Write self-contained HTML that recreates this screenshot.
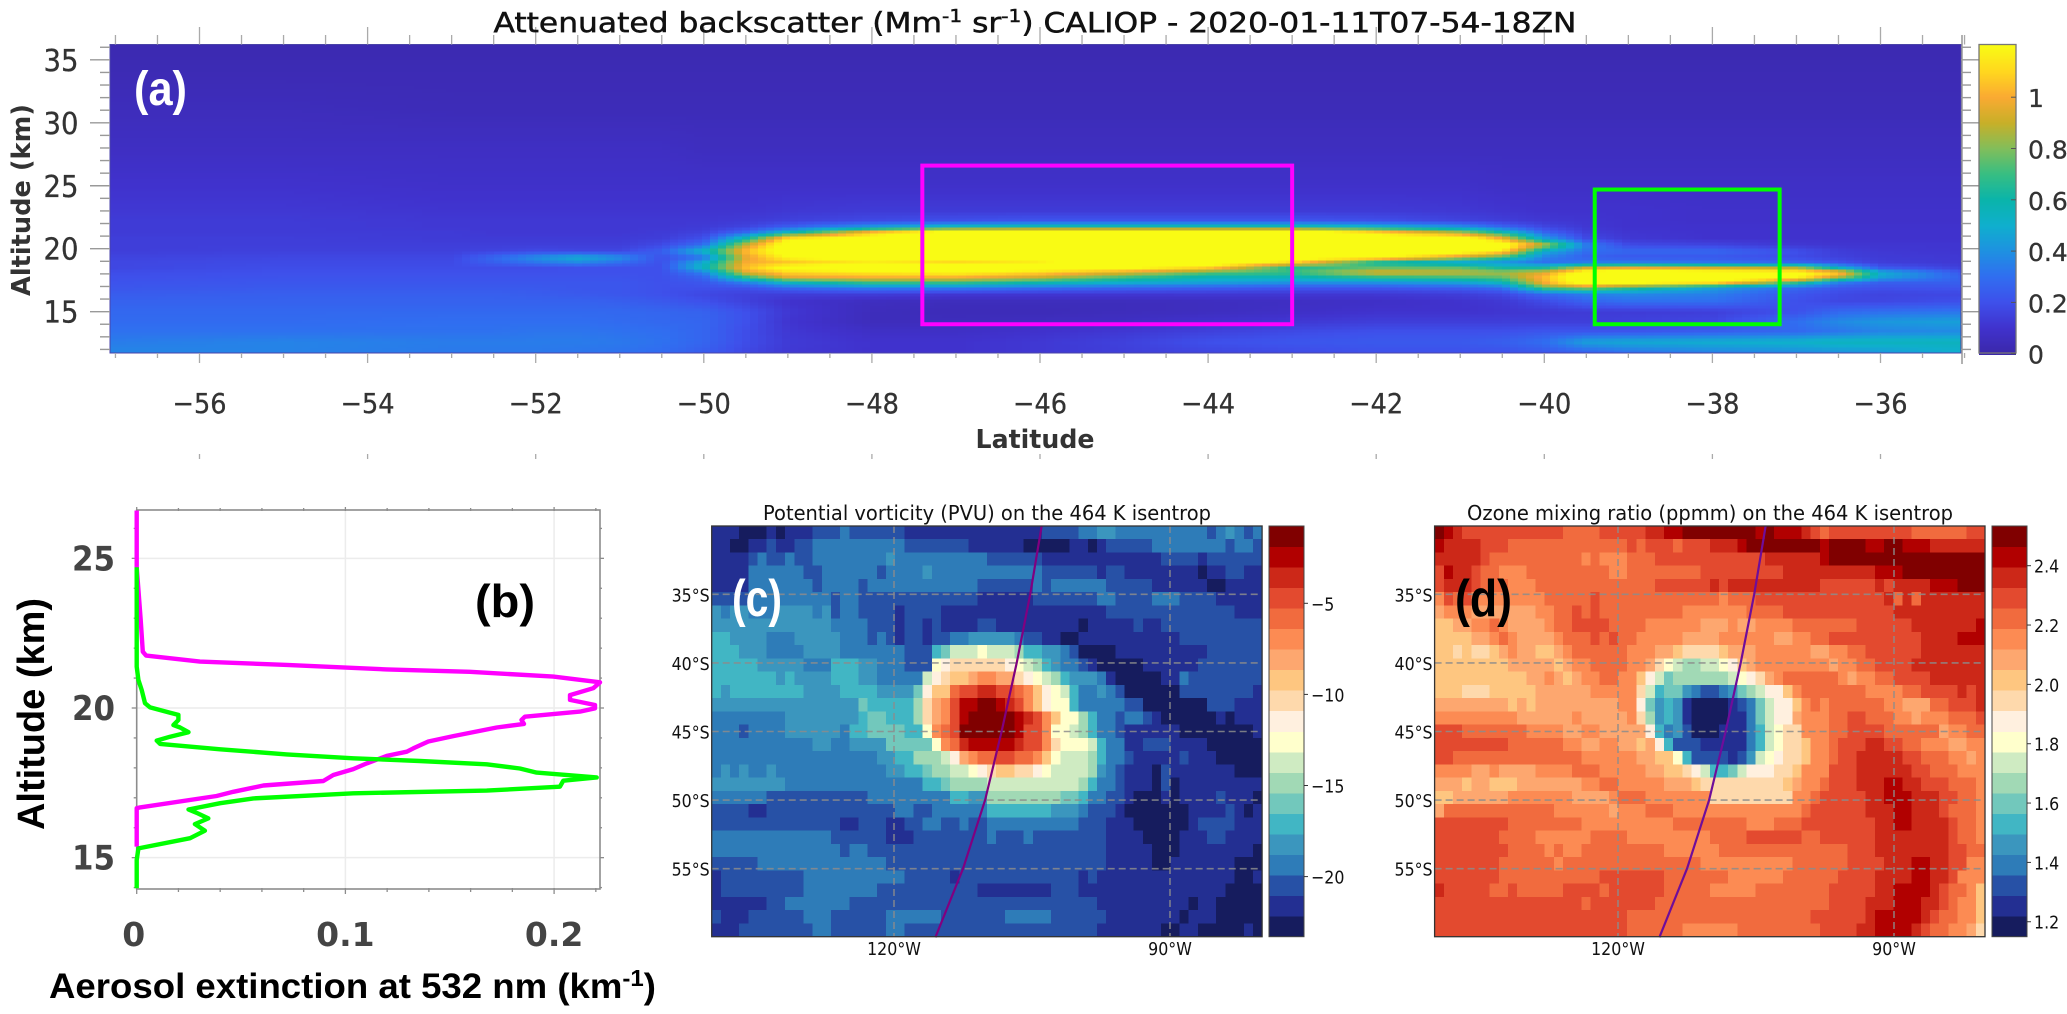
<!DOCTYPE html>
<html lang="en">
<head>
<meta charset="utf-8">
<title>CALIOP attenuated backscatter, extinction, PV and ozone</title>
<style>
html,body{margin:0;padding:0;background:#fff;}
svg{display:block;}
text{font-family:"DejaVu Sans","Liberation Sans",sans-serif;}
.lib{font-family:"Liberation Sans","DejaVu Sans",sans-serif;font-weight:bold;}
</style>
</head>
<body>
<svg id="fig" xmlns="http://www.w3.org/2000/svg" width="2067" height="1014" viewBox="0 0 2067 1014">
  <rect x="0" y="0" width="2067" height="1014" fill="#ffffff"/>
  <g id="panelA"></g>
  <g id="panelB"></g>
  <g id="panelC"></g>
  <g id="panelD"></g>

  <text x="493.5" y="32" font-size="28" fill="#111" stroke="#111" stroke-width="0.5" textLength="1083" lengthAdjust="spacingAndGlyphs">Attenuated backscatter (Mm<tspan font-size="18" dy="-10">-1</tspan><tspan dy="10"> sr</tspan><tspan font-size="18" dy="-10">-1</tspan><tspan dy="10">) CALIOP - 2020-01-11T07-54-18ZN</tspan></text>
  <text x="30" y="200" font-size="26" font-weight="bold" fill="#333" text-anchor="middle" textLength="192" lengthAdjust="spacingAndGlyphs" transform="rotate(-90 30 200)">Altitude (km)</text>
  <text x="1035" y="448" font-size="26" font-weight="bold" fill="#333" text-anchor="middle" textLength="119" lengthAdjust="spacingAndGlyphs">Latitude</text>
  <text class="lib" x="134" y="105" font-size="48" fill="#ffffff" textLength="53" lengthAdjust="spacingAndGlyphs">(a)</text>

  <text class="lib" x="44" y="714" font-size="38" fill="#000" text-anchor="middle" textLength="232" lengthAdjust="spacingAndGlyphs" transform="rotate(-90 44 714)">Altitude (km)</text>
  <text class="lib" x="49" y="998" font-size="35" fill="#000" textLength="607" lengthAdjust="spacingAndGlyphs">Aerosol extinction at 532 nm (km<tspan font-size="23" dy="-12">-1</tspan><tspan dy="12">)</tspan></text>
  <text class="lib" x="475" y="617" font-size="46" fill="#000" textLength="60" lengthAdjust="spacingAndGlyphs">(b)</text>

  <text x="763" y="520" font-size="20" fill="#111" textLength="448" lengthAdjust="spacingAndGlyphs">Potential vorticity (PVU) on the 464 K isentrop</text>
  <text class="lib" x="732" y="616" font-size="52" fill="#ffffff" textLength="50" lengthAdjust="spacingAndGlyphs">(c)</text>

  <text x="1467" y="520" font-size="20" fill="#111" textLength="486" lengthAdjust="spacingAndGlyphs">Ozone mixing ratio (ppmm) on the 464 K isentrop</text>
  <text class="lib" x="1455" y="616" font-size="52" fill="#000000" textLength="57" lengthAdjust="spacingAndGlyphs">(d)</text>
</svg>
<script>
/* ---------- Panel (a) data ---------- */
const caliopLatitudes = [-57,-55,-53,-52.5,-52,-51.5,-51,-50.5,-50,-49.5,-49,-48,-47,-46,-45,-44,-43,-42,-41,-40.5,-40,-39.5,-39,-38,-37,-36.5,-36,-35];
const caliopAltitudes = [36.2,34,31,28,25,23,22.2,21.7,21.3,20.8,20.3,19.8,19.3,18.9,18.5,18.1,17.7,17.3,16.9,16.4,15.8,15,14.2,13.4,12.6,11.7];
const caliopBackscatter = [
[.02,.02,.02,.02,.02,.02,.02,.02,.02,.02,.02,.02,.02,.02,.02,.02,.02,.02,.02,.02,.02,.02,.02,.02,.02,.02,.02,.02],
[.03,.03,.03,.03,.03,.03,.03,.03,.03,.03,.03,.03,.03,.03,.03,.03,.03,.03,.03,.03,.03,.03,.03,.03,.03,.03,.03,.03],
[.05,.05,.04,.04,.04,.04,.04,.04,.04,.04,.04,.04,.04,.04,.04,.04,.04,.04,.04,.04,.04,.04,.04,.04,.04,.04,.04,.04],
[.07,.07,.07,.07,.07,.07,.07,.07,.06,.06,.06,.06,.06,.06,.06,.06,.06,.06,.06,.06,.06,.06,.06,.06,.06,.06,.06,.06],
[.10,.10,.09,.09,.09,.09,.09,.09,.09,.09,.09,.09,.09,.09,.09,.09,.09,.09,.09,.08,.08,.08,.08,.08,.08,.08,.08,.08],
[.12,.12,.11,.11,.11,.11,.11,.11,.11,.11,.12,.13,.13,.13,.13,.13,.13,.13,.12,.11,.10,.10,.10,.09,.09,.09,.09,.09],
[.13,.13,.12,.12,.12,.12,.12,.12,.12,.13,.15,.18,.2,.22,.22,.22,.22,.2,.16,.14,.12,.11,.10,.09,.09,.09,.09,.09],
[.13,.13,.12,.12,.12,.12,.12,.12,.13,.16,.25,.45,.6,.65,.65,.65,.65,.55,.42,.28,.17,.12,.1,.1,.1,.1,.1,.1],
[.13,.13,.13,.12,.12,.12,.12,.13,.15,.28,.55,1.05,1.3,1.35,1.35,1.35,1.35,1.1,.85,.6,.27,.14,.11,.1,.1,.1,.1,.1],
[.14,.14,.13,.13,.13,.13,.13,.14,.2,.6,1.15,1.3,1.4,1.4,1.4,1.4,1.4,1.35,1.3,1.0,.45,.18,.12,.1,.1,.1,.1,.1],
[.14,.14,.14,.14,.14,.14,.14,.18,.3,.9,1.3,1.4,1.4,1.4,1.4,1.4,1.4,1.4,1.4,1.3,.9,.35,.18,.16,.12,.11,.11,.11],
[.14,.15,.15,.16,.18,.17,.17,.25,.55,1.05,1.3,1.35,1.4,1.4,1.4,1.4,1.4,1.35,1.3,1.15,.5,.3,.28,.28,.2,.14,.12,.11],
[.16,.17,.17,.28,.4,.5,.4,.2,.3,.95,1.2,1.3,1.3,1.3,1.4,1.4,1.3,1.25,.9,.7,.35,.25,.22,.22,.18,.15,.13,.12],
[.17,.18,.18,.25,.32,.38,.3,.2,.5,1.0,1.05,1.15,1.08,1.15,1.35,1.35,1.1,.6,.45,.4,.3,.35,.35,.32,.27,.2,.14,.12],
[.17,.19,.19,.19,.19,.2,.2,.2,.55,1.05,1.25,1.35,1.35,1.3,1.25,1.1,.65,.75,.75,.6,.6,.9,.95,.9,.85,.5,.22,.14],
[.19,.2,.2,.2,.2,.2,.2,.2,.35,.95,1.1,1.15,1.2,1.1,.95,.75,.7,.95,.9,.85,.95,1.3,1.35,1.3,1.25,1.1,.5,.22],
[.2,.21,.21,.21,.21,.21,.21,.2,.26,.65,.95,1.0,1.0,.9,.7,.55,.55,.65,.7,.75,1.05,1.35,1.4,1.4,1.2,.85,.45,.25],
[.21,.22,.22,.22,.22,.22,.22,.2,.22,.35,.55,.7,.7,.6,.5,.45,.4,.4,.45,.55,1.0,1.3,1.25,1.15,.7,.35,.25,.25],
[.22,.23,.23,.23,.23,.22,.22,.2,.2,.2,.28,.35,.35,.3,.27,.25,.22,.22,.25,.3,.75,.85,.7,.45,.28,.22,.2,.22],
[.24,.25,.25,.25,.24,.23,.22,.2,.17,.15,.14,.14,.12,.12,.12,.12,.12,.12,.14,.17,.28,.35,.38,.35,.22,.18,.16,.17],
[.26,.26,.26,.26,.26,.26,.25,.23,.2,.15,.1,.06,.05,.05,.05,.06,.07,.08,.1,.12,.18,.26,.3,.3,.2,.17,.17,.2],
[.28,.28,.28,.28,.28,.28,.28,.27,.26,.2,.12,.05,.04,.04,.05,.06,.08,.1,.1,.11,.12,.13,.13,.14,.2,.28,.3,.32],
[.29,.29,.3,.3,.3,.3,.29,.28,.27,.2,.11,.05,.05,.06,.07,.1,.12,.14,.14,.14,.14,.14,.15,.17,.3,.38,.42,.45],
[.31,.31,.31,.31,.32,.32,.31,.3,.27,.19,.12,.08,.08,.1,.12,.15,.18,.2,.2,.2,.22,.22,.22,.25,.28,.32,.36,.38],
[.34,.36,.34,.34,.34,.34,.33,.31,.27,.19,.13,.1,.1,.12,.15,.2,.22,.23,.23,.25,.3,.45,.48,.5,.52,.55,.55,.55],
[.37,.36,.33,.33,.33,.32,.31,.29,.24,.17,.12,.1,.1,.12,.14,.16,.18,.2,.2,.2,.22,.25,.3,.35,.38,.4,.42,.5]
];
const latitudeTicks = [-56,-54,-52,-50,-48,-46,-44,-42,-40,-38,-36];
const altitudeTicks = [35,30,25,20,15];
const backscatterTicks = [0,0.2,0.4,0.6,0.8,1];
const backscatterMax = 1.205;
const backscatterStops = [[0,59,40,170],[.1,64,50,205],[.2,62,80,235],[.3,48,110,240],[.4,30,145,225],[.5,15,175,205],[.6,10,180,170],[.7,55,190,130],[.8,130,190,90],[.9,200,175,40],[1,250,170,50],[1.1,255,215,30],[1.2,249,251,20]];
const magentaBox = {latMin:-47.4,latMax:-43.0,altMin:14.0,altMax:26.6};
const greenBox = {latMin:-39.4,latMax:-37.2,altMin:14.0,altMax:24.7};

/* ---------- Panel (b) data ---------- */
const magentaExtinction = [0,0,.0019,.0029,.0045,.0303,.0719,.1198,.1597,.1996,.222,.2188,.2076,.2076,.2196,.2196,.2124,.186,.1844,.1856,.1725,.1517,.1397,.1325,.1294,.1198,.1102,.1038,.0942,.0894,.0607,.0463,.0383,.0016,0,0];
const magentaAltitude = [26.6,24.7,22.94,21.88,21.75,21.55,21.44,21.29,21.21,21.05,20.86,20.66,20.43,20.27,20.10,19.99,19.88,19.71,19.6,19.47,19.35,19.06,18.88,18.65,18.54,18.4,18.15,17.96,17.76,17.56,17.41,17.2,17.06,16.68,16.65,15.37];
const greenExtinction = [0,0,0,0,.0008,.0024,.004,.0064,.016,.02,.02,.0176,.0208,.0248,.016,.0096,.0112,.04,.0719,.1038,.1357,.1677,.1836,.1916,.2204,.2044,.2028,.1677,.1038,.0559,.04,.0248,.0287,.0343,.0279,.0327,.0256,.0008,0,0];
const greenAltitude = [24.7,22.94,21.83,21.38,20.94,20.6,20.16,20.02,19.84,19.77,19.6,19.43,19.35,19.19,19.04,18.91,18.8,18.62,18.45,18.32,18.23,18.12,17.98,17.84,17.68,17.57,17.37,17.24,17.15,16.98,16.82,16.61,16.5,16.31,16.12,15.9,15.65,15.31,14.92,13.98];
const extinctionTicks = [0,0.1,0.2];
const extinctionAltTicks = [25,20,15];

/* ---------- Panels (c) and (d) data: colour-bar bin of each grid cell, north to south, west to east ---------- */
const levelColors = ["#161c5e","#232f92","#2751a6","#2e7cb8","#3b96be","#41b6c4","#72c8bc","#a1d9b5","#cfebc2","#ffffcc","#fff0df","#fed9ac","#fec680","#fda76f","#fc8b53","#f16b3e","#e34a2f","#cc2818","#b10000","#800000"];
const pvBins = [
[1,1,1,0,0,0,1,0,1,1,1,2,2,2,3,2,2,2,2,2,2,1,1,1,1,1,1,1,1,1,1,1,1,1,1,1,2,2,2,2,3,3,4,4,3,3,3,3,3,3,3,3,3,3,2,3,4,3,2,3],
[1,1,0,0,1,1,2,1,1,2,2,3,3,3,3,3,3,3,3,3,3,2,2,2,2,2,2,2,1,1,1,1,1,1,0,0,0,0,0,1,1,0,1,2,2,2,2,2,3,3,3,3,3,3,3,3,2,3,3,2],
[1,1,1,1,2,3,2,2,3,2,2,3,3,3,3,3,3,3,3,4,3,3,3,3,3,3,3,3,3,3,2,2,2,2,2,2,1,1,1,1,1,1,1,1,1,1,1,1,1,2,2,2,2,1,2,2,2,2,2,2],
[1,1,1,1,3,3,3,3,3,3,2,2,3,3,3,3,3,3,2,3,3,3,3,4,3,3,3,3,3,3,3,3,3,3,3,3,2,2,2,2,2,2,1,2,2,1,1,1,1,1,1,1,1,0,1,1,2,2,1,1],
[1,1,1,1,3,3,3,3,3,3,3,2,3,3,3,3,2,3,3,3,3,3,3,3,3,3,3,3,3,2,2,2,2,2,2,3,2,3,3,3,3,3,3,2,2,2,2,2,1,1,1,1,1,1,0,0,1,1,1,1],
[2,2,2,2,3,3,3,3,3,3,3,3,3,2,3,3,2,2,2,2,2,2,2,2,2,2,2,2,2,1,1,1,1,1,1,2,2,2,2,2,2,2,3,3,2,2,2,2,3,3,3,2,2,2,2,1,1,1,1,1],
[4,3,4,4,3,3,3,4,4,4,4,3,4,2,3,3,2,2,2,2,1,2,2,2,2,1,1,1,1,1,1,1,1,1,1,1,1,1,1,1,1,1,1,2,2,2,2,2,2,2,2,2,2,2,2,2,2,1,1,1],
[4,4,4,4,4,4,4,4,4,4,4,4,4,3,3,3,3,2,2,2,1,2,2,1,2,1,1,1,1,2,2,1,1,1,1,1,1,1,1,1,0,1,1,1,1,1,2,1,1,2,2,2,2,2,2,2,2,2,2,2],
[5,5,4,4,4,4,3,3,3,4,4,4,4,4,3,3,3,2,3,2,1,2,2,1,2,2,3,3,4,4,4,4,4,3,2,2,1,1,0,0,1,1,1,1,1,1,1,1,1,1,1,2,2,2,2,2,2,2,2,2],
[5,5,5,4,4,4,3,3,3,3,4,4,4,4,3,3,3,3,3,3,3,2,2,2,5,6,8,8,8,9,8,8,8,7,5,5,4,4,3,2,0,0,0,0,1,1,1,1,1,1,1,1,1,1,2,2,2,2,2,2],
[5,5,5,5,5,4,4,4,4,4,3,3,3,5,5,5,4,4,3,3,3,2,2,2,9,10,11,11,11,11,11,11,10,9,8,7,5,4,3,3,2,1,0,0,0,0,0,1,1,1,1,1,1,2,2,2,2,2,2,2],
[5,5,5,5,5,5,5,4,5,4,4,4,4,5,5,5,4,4,3,3,3,3,3,8,10,11,12,12,13,14,14,13,13,11,10,9,8,7,5,4,4,4,3,1,0,0,0,0,0,1,1,3,2,2,2,2,2,2,2,2],
[5,4,5,5,5,5,5,5,5,5,4,4,4,4,5,5,5,5,4,4,4,4,6,10,12,12,15,16,16,17,17,16,16,15,14,12,10,9,8,5,3,3,4,3,2,0,0,0,0,0,0,2,2,2,2,2,2,2,2,1],
[4,4,4,4,4,4,4,4,4,4,4,4,4,4,4,4,6,5,5,5,5,5,7,11,13,14,16,18,18,19,19,18,17,16,14,12,10,9,9,5,3,3,3,3,3,2,2,0,0,0,0,0,0,0,2,2,2,1,1,1],
[3,3,3,3,3,3,3,3,4,4,4,4,4,4,4,4,5,6,6,5,5,5,7,11,13,14,16,18,19,19,19,19,19,18,17,16,14,12,9,9,7,5,3,3,2,3,3,2,1,0,0,0,0,0,0,1,0,1,1,1],
[3,3,3,2,3,3,3,3,4,4,4,4,4,4,3,5,5,6,6,6,6,5,5,9,14,15,16,19,19,19,19,19,19,18,16,16,14,9,9,8,7,5,3,3,2,1,1,1,1,1,1,0,0,0,0,0,0,0,0,1],
[3,3,3,3,3,3,3,3,3,3,3,4,4,3,3,4,4,4,4,6,6,6,6,6,9,14,15,17,18,18,18,18,18,17,16,16,14,11,9,9,9,8,5,3,3,1,1,2,2,2,1,1,1,1,0,0,0,0,0,0],
[3,3,3,3,3,3,3,3,3,3,3,3,3,3,3,3,3,3,4,4,5,5,7,7,7,8,10,13,14,15,15,16,16,15,15,14,12,9,8,8,8,7,5,3,3,2,1,1,1,1,1,2,1,1,1,0,0,0,0,0],
[3,4,3,4,3,3,4,3,3,3,3,3,3,3,3,3,3,3,3,4,4,5,5,6,7,7,8,8,9,10,11,12,12,11,11,10,9,8,8,8,8,7,4,3,2,1,1,1,0,2,1,1,1,1,1,1,1,0,0,0],
[4,4,4,4,4,4,4,4,3,3,3,3,3,3,3,3,3,3,3,3,3,3,3,5,5,6,7,7,7,7,8,8,8,8,8,8,8,8,8,8,7,5,3,3,2,1,1,1,0,2,0,1,1,1,1,1,1,1,1,1],
[3,3,3,3,3,3,2,2,2,2,2,2,2,2,2,2,2,3,3,3,3,3,3,3,3,3,5,5,4,4,7,7,7,7,7,7,7,7,6,6,5,3,3,2,2,1,0,0,0,1,0,1,1,1,1,2,1,1,1,0],
[2,2,2,2,1,1,2,2,2,2,2,2,2,2,2,2,2,2,2,2,3,3,2,2,3,3,3,3,3,3,5,5,5,5,5,5,5,4,4,4,3,2,2,2,1,0,0,0,0,0,0,0,1,1,1,1,2,1,0,1],
[2,2,2,2,2,2,2,2,2,2,2,2,2,2,1,1,2,2,2,1,1,2,2,3,3,2,2,3,2,2,3,3,3,3,3,3,3,3,3,3,2,2,2,1,1,1,0,0,0,0,0,0,1,2,2,2,2,1,1,1],
[3,3,3,3,3,3,3,3,3,3,3,3,3,2,2,2,2,2,2,1,1,1,2,2,2,2,2,2,2,2,3,2,2,2,3,2,2,2,2,2,2,2,2,1,1,1,1,0,0,0,0,1,1,1,2,2,1,1,1,1],
[3,3,3,3,3,3,3,3,3,3,3,3,3,3,2,3,3,2,2,2,2,2,2,2,2,2,2,2,2,2,2,2,2,2,2,2,2,2,2,2,2,2,2,1,1,1,1,1,0,0,0,1,1,1,1,1,1,1,1,0],
[2,2,2,2,2,3,3,3,3,3,3,3,3,3,3,3,3,3,3,2,2,2,2,2,2,2,2,2,2,2,2,2,2,2,2,2,2,2,2,2,2,2,2,1,1,1,1,1,0,0,1,1,1,1,1,1,1,0,0,0],
[1,2,2,2,2,2,2,2,2,2,3,3,3,3,3,3,3,3,3,3,3,2,2,2,2,2,1,2,2,2,2,2,2,2,2,2,2,2,2,2,1,2,1,1,1,1,1,1,1,1,1,1,1,1,1,1,1,0,0,1],
[1,2,2,2,2,2,2,2,2,2,3,3,3,3,3,3,3,3,2,2,2,2,2,2,2,2,2,2,2,1,1,1,1,1,1,1,1,2,2,2,1,1,1,1,1,1,1,1,1,1,1,1,1,1,1,1,0,0,0,0],
[1,1,1,1,1,1,2,2,3,3,3,3,3,3,3,2,2,2,2,2,2,2,2,2,2,2,2,2,2,2,2,2,2,2,2,2,2,2,2,2,2,2,1,1,1,1,1,1,1,1,1,1,0,1,1,0,0,0,0,0],
[2,1,1,1,2,2,2,2,2,2,3,3,3,2,2,2,2,2,2,3,3,3,3,3,3,2,2,2,2,2,2,2,3,3,3,3,3,2,2,2,2,2,2,1,1,1,1,1,1,1,1,0,1,1,1,0,0,0,0,0],
[1,1,1,2,2,2,2,2,2,2,2,3,3,2,2,2,2,2,2,3,3,2,2,2,2,2,2,2,2,2,2,2,2,2,2,2,2,2,2,2,2,2,1,1,1,1,1,1,1,0,0,1,1,0,0,0,0,0,1,0]
];
const ozoneBins = [
[19,18,17,16,16,16,16,16,16,16,16,16,16,16,15,15,15,15,16,16,16,16,16,17,17,18,18,19,19,19,19,19,19,19,19,18,19,18,18,18,17,16,15,16,16,16,16,16,16,16,16,16,15,15,15,15,15,15,16,16],
[18,17,17,17,17,16,16,16,15,15,15,15,15,15,15,15,15,15,15,15,15,16,15,16,16,16,15,16,16,16,17,17,17,18,19,19,19,19,19,19,19,19,18,19,19,19,19,18,18,19,19,18,18,18,17,17,17,17,17,17],
[17,17,17,17,17,16,15,15,15,15,15,15,15,15,15,15,14,15,14,14,14,15,15,15,16,16,16,16,16,16,16,16,16,16,16,16,17,17,17,17,17,17,18,19,19,19,19,19,19,19,19,19,19,19,19,19,19,19,19,19],
[16,18,17,17,16,15,15,14,14,14,15,15,15,15,15,15,15,15,15,14,14,15,15,15,15,15,15,15,15,16,16,16,16,16,16,16,16,16,17,17,17,17,17,17,17,17,17,17,18,18,18,19,19,19,19,19,19,19,19,19],
[16,17,17,17,16,15,15,15,14,14,14,15,15,15,15,15,15,15,15,15,15,15,15,15,16,16,16,16,16,16,17,16,17,17,17,17,17,17,17,17,17,17,16,16,16,16,16,16,17,16,17,17,17,17,18,18,18,19,19,19],
[14,16,15,16,14,14,14,14,14,14,14,14,15,15,15,15,15,16,15,15,15,15,15,15,15,15,15,15,15,15,15,14,15,15,15,16,16,16,16,16,16,16,16,16,16,16,16,16,16,17,15,17,15,17,17,17,17,17,17,17],
[13,14,14,14,13,13,13,13,13,13,13,14,14,15,15,16,15,16,15,15,15,15,15,15,15,15,15,14,14,14,14,14,14,14,15,15,15,15,16,16,16,16,16,16,16,16,16,16,16,16,17,17,17,17,17,17,17,17,17,17],
[12,12,13,13,14,14,15,14,13,13,13,13,14,15,15,16,16,16,16,15,15,15,15,14,14,14,14,14,14,13,13,13,14,13,13,14,14,14,14,15,15,15,15,15,15,15,16,16,16,16,16,16,17,17,17,17,17,17,17,18],
[12,12,12,12,13,13,14,15,14,13,13,13,13,14,15,15,15,16,15,16,15,15,14,14,14,14,14,13,13,13,13,14,14,14,14,14,14,13,13,14,14,15,15,16,16,16,16,16,16,16,16,16,16,17,17,17,17,18,18,18],
[12,12,11,12,11,11,12,13,14,13,13,12,12,13,14,15,15,15,15,15,15,14,14,14,13,13,12,11,11,11,11,12,13,13,13,14,14,14,14,14,14,13,13,14,14,15,15,16,16,16,16,16,16,17,17,17,17,17,17,17],
[12,12,12,12,12,12,12,12,13,13,13,13,13,12,13,14,14,15,15,15,15,14,14,13,11,9,8,7,7,8,8,9,10,12,13,14,14,14,14,14,14,14,14,13,14,14,15,15,16,16,16,16,17,17,17,17,17,17,17,17],
[12,12,12,12,12,12,12,12,12,12,13,13,14,13,12,13,14,14,15,15,14,14,12,10,8,6,7,7,7,7,7,7,8,9,10,11,13,14,15,15,15,15,15,15,14,13,14,14,15,15,16,16,16,16,17,17,17,17,17,17],
[12,12,12,11,11,11,12,12,12,12,12,13,13,13,13,13,13,14,14,14,14,14,11,8,5,6,6,4,3,2,2,3,4,6,7,8,10,10,12,14,15,15,15,15,15,15,15,14,14,14,14,15,15,16,16,16,16,17,16,17],
[13,13,13,13,13,13,13,13,12,13,12,13,13,13,13,13,13,13,13,13,14,14,10,6,4,5,4,1,0,0,0,0,1,2,3,6,8,10,10,12,14,15,14,15,15,15,15,15,15,14,14,13,13,13,15,15,16,16,16,17],
[14,14,14,14,14,14,14,14,14,13,13,13,13,13,13,14,13,13,13,13,13,14,11,7,4,5,4,1,0,0,0,0,1,1,3,6,8,10,10,13,14,14,14,15,15,16,16,15,15,15,14,14,13,14,14,14,15,15,15,16],
[16,16,16,15,15,15,15,15,15,15,14,14,14,14,13,13,14,14,13,13,13,13,13,10,5,3,4,2,0,0,0,1,1,1,3,5,8,9,11,11,14,14,14,15,15,16,16,16,16,15,15,15,15,15,15,13,14,14,15,15],
[16,16,16,16,16,16,16,16,15,15,15,15,15,15,14,14,13,13,14,14,13,13,12,13,10,5,2,2,2,1,1,1,1,1,3,5,8,9,11,11,12,14,14,15,16,16,16,17,17,16,16,15,15,14,14,14,13,13,14,14],
[16,16,15,15,15,15,15,15,15,15,15,15,15,15,15,15,14,14,14,14,14,14,13,13,12,12,9,5,2,2,2,2,1,2,4,8,9,10,11,11,12,14,14,15,16,16,17,17,17,17,17,16,16,15,15,15,14,14,13,14],
[14,14,14,14,13,13,14,13,13,13,13,14,14,14,14,15,15,15,14,14,14,14,14,13,13,12,12,11,10,8,5,5,6,8,10,10,10,11,11,12,14,14,14,16,16,16,17,17,17,17,17,17,16,16,15,15,15,14,14,14],
[13,13,13,12,13,13,12,12,12,13,13,13,13,13,13,13,14,14,15,15,14,14,14,14,14,13,13,13,12,11,11,11,11,11,11,11,11,11,12,13,14,14,15,16,16,16,17,17,17,18,18,17,17,16,16,16,15,15,15,14],
[12,12,13,13,13,13,13,13,14,14,14,14,14,14,14,13,13,13,13,14,15,15,15,14,14,14,14,14,14,14,11,11,11,11,11,11,11,11,11,14,14,15,16,16,16,16,16,17,17,18,18,18,17,17,17,16,16,15,15,14],
[13,15,15,15,15,15,15,15,15,15,15,15,15,14,14,14,14,14,14,13,14,14,14,15,15,15,14,14,14,14,14,14,14,14,14,14,14,14,14,14,15,16,16,16,16,16,16,17,17,17,18,18,17,17,17,16,15,15,15,14],
[16,16,16,16,16,16,16,16,15,15,15,15,15,15,15,15,14,14,14,14,14,14,14,14,14,14,15,15,15,15,15,15,15,15,14,14,14,15,15,15,16,16,16,16,16,16,16,16,17,17,18,18,17,17,17,17,16,15,15,14],
[16,16,16,16,16,16,16,15,15,15,15,14,14,14,14,14,14,15,15,15,15,14,14,14,14,14,14,14,14,14,15,15,15,15,16,16,16,16,16,16,15,15,16,16,16,16,16,16,17,17,17,17,17,17,17,17,16,15,15,14],
[16,16,16,16,16,16,16,16,15,15,15,15,14,15,14,14,15,15,15,15,15,15,15,15,15,14,14,14,14,14,14,15,15,15,15,15,15,15,15,15,15,15,15,15,15,16,16,16,17,17,17,17,17,17,17,17,16,16,15,15],
[16,16,16,16,16,16,16,15,15,15,15,15,15,14,15,15,15,15,15,15,15,15,15,15,15,15,15,15,15,14,14,14,14,14,14,14,14,14,14,15,15,15,15,15,15,16,16,16,16,17,17,17,18,18,17,17,16,16,14,14],
[16,16,16,16,16,16,16,15,15,15,15,15,15,15,15,15,15,15,16,16,16,16,16,16,16,15,15,15,15,15,15,15,14,14,14,14,14,14,15,15,15,15,15,15,16,16,16,16,17,17,17,17,18,18,17,17,16,14,14,14],
[17,16,16,16,16,16,15,15,16,15,15,15,15,15,16,16,16,16,15,16,16,16,16,16,16,15,15,15,15,15,14,14,14,14,14,15,15,15,15,15,15,15,15,16,16,16,16,16,17,17,18,18,18,18,17,16,15,15,14,12],
[16,16,16,16,16,16,16,16,16,16,16,16,16,16,16,16,15,16,16,16,16,16,16,16,15,15,15,15,15,15,15,15,15,15,15,15,15,15,15,15,15,15,15,16,16,16,16,17,17,17,18,18,18,17,17,16,15,14,14,12],
[16,16,16,16,16,16,16,16,16,16,16,16,16,16,16,16,16,16,16,16,16,15,15,15,15,15,15,15,15,15,15,15,15,15,15,15,15,15,15,15,15,16,16,16,16,16,16,17,18,18,18,18,18,17,16,15,15,14,14,12],
[16,16,16,16,16,16,16,16,16,16,16,16,16,16,16,16,16,16,16,16,16,15,15,15,15,15,15,14,14,14,14,14,14,15,15,15,15,15,15,15,15,15,16,16,16,16,17,17,18,18,18,18,17,16,15,15,14,14,13,11]
];
const pvTicks = [-5,-10,-15,-20];
const ozoneTicks = [2.4,2.2,2.0,1.8,1.6,1.4,1.2];
const gridLongitudes = [-120,-90];
const gridLatitudes = [-35,-40,-45,-50,-55];
const trackLongitudes = [-103.95,-105.2,-106.66,-108.3,-110.1,-112.5,-115.5];
const trackLatitudes = [-30,-35,-40,-45,-50,-55,-60];

/* ---------- helpers ---------- */
const NS = "http://www.w3.org/2000/svg";
function make(parent, tag, props, content){
  const el = document.createElementNS(NS, tag);
  for (const k in props) el.setAttribute(k, props[k]);
  if (content !== undefined) el.textContent = content;
  parent.appendChild(el);
  return el;
}
function squeeze(el, factor){
  const w = el.getComputedTextLength();
  el.setAttribute("textLength", (w * factor).toFixed(1));
  el.setAttribute("lengthAdjust", "spacingAndGlyphs");
}
const minus = s => String(s).replace("-", "\u2212");
function bracket(list, v, descending){
  let i = 0;
  for (; i < list.length - 2; i++){
    if (descending ? v >= list[i+1] : v <= list[i+1]) break;
  }
  let t = (v - list[i]) / (list[i+1] - list[i]);
  t = Math.max(0, Math.min(1, t));
  return [i, t];
}

/* ---------- Panel (a) ---------- */
(function(){
  const root = document.getElementById("panelA");
  const left = 110, right = 1961, top = 44.5, bottom = 353;
  const xLat = lat => 199.5 + (lat + 56) * 84.05;
  const latX = x => -56 + (x - 199.5) / 84.05;
  const yAlt = alt => 248.7 - (alt - 20) * 12.59;
  const altY = y => 20 - (y - 248.7) / 12.59;
  function color(v){
    v = Math.max(0, Math.min(1.2, v));
    let i = 0;
    while (i < backscatterStops.length - 2 && v > backscatterStops[i+1][0]) i++;
    const a = backscatterStops[i], b = backscatterStops[i+1], t = (v - a[0]) / (b[0] - a[0]);
    return "rgb(" + [1,2,3].map(k => Math.round(a[k] + (b[k] - a[k]) * t)).join(",") + ")";
  }
  const heat = make(root, "g", {"shape-rendering":"crispEdges"});
  
  
  const dx = 8, dy = 3;
  for (let y = top; y < bottom; y += dy){
    const [r, tr] = bracket(caliopAltitudes, altY(y + dy/2), true);
    for (let x = left; x < right; x += dx){
      const [c, tc] = bracket(caliopLatitudes, latX(x + dx/2), false);
      const g = caliopBackscatter;
      const v = (g[r][c]*(1-tc) + g[r][c+1]*tc)*(1-tr) + (g[r+1][c]*(1-tc) + g[r+1][c+1]*tc)*tr;
      const cell = make(heat, "rect", {x:x, y:y, width:Math.min(dx+.5, right-x), height:Math.min(dy+.5, bottom-y), fill:color(v)});
      
      
    }
  }
  const boxes = [[magentaBox,"#ff00ff","magenta-region-box"],[greenBox,"#00ff00","green-region-box"]];
  boxes.forEach(function(b){
    const x1 = xLat(b[0].latMin), x2 = xLat(b[0].latMax), y1 = yAlt(b[0].altMax), y2 = yAlt(b[0].altMin);
    const box = make(root, "rect", {x:x1, y:y1, width:x2-x1, height:y2-y1, fill:"none", stroke:b[1], "stroke-width":4});
    
    
  });
  const frame = make(root, "rect", {x:left, y:top, width:right-left, height:bottom-top, fill:"none", stroke:"#4a43a8", "stroke-width":1});
  
  
  const axR = make(root, "line", {x1:right+1, x2:right+1, y1:35, y2:364, stroke:"#999", "stroke-width":1.5});
  
  

  for (let lat = -57; lat <= -35; lat += 0.5){
    const major = lat % 2 === 0;
    const t = make(root, "line", {x1:xLat(lat), x2:xLat(lat), y1:major?27:35, y2:top, stroke:"#aaa", "stroke-width":1.3});
    
    
    const b = make(root, "line", {x1:xLat(lat), x2:xLat(lat), y1:bottom, y2:bottom+(major?10:5), stroke:"#aaa", "stroke-width":1.3});
    
    
  }
  for (let alt = 12; alt <= 36; alt += 1){
    const major = alt % 5 === 0;
    const y = yAlt(alt);
    const l = make(root, "line", {x1:major?90:100, x2:left, y1:y, y2:y, stroke:"#999", "stroke-width":1.4});
    
    
    const r = make(root, "line", {x1:right, x2:major?1980:1971, y1:y, y2:y, stroke:"#999", "stroke-width":1.4});
    
    
  }
  altitudeTicks.forEach(function(a){
    const t = make(root, "text", {x:43.5, y:yAlt(a)+11, "font-size":30, fill:"#333", stroke:"#333", "stroke-width":.3, textLength:35, lengthAdjust:"spacingAndGlyphs"}, String(a));
    
    
  });
  latitudeTicks.forEach(function(l){
    const t = make(root, "text", {x:xLat(l), y:413, "font-size":28, fill:"#333", stroke:"#333", "stroke-width":.3, "text-anchor":"middle", textLength:54, lengthAdjust:"spacingAndGlyphs"}, minus(l));
    
    
    const f = make(root, "line", {x1:xLat(l), x2:xLat(l), y1:454, y2:459, stroke:"#aaa", "stroke-width":1.3});
    
    
  });
  /* colour bar */
  const cbY = v => 353.7 - v * (353.7 - 97.2);
  const cbBar = make(root, "g", {"shape-rendering":"crispEdges"});
  
  
  for (let y = top; y < bottom; y += 2){
    const seg = make(cbBar, "rect", {x:1979, y:y, width:37, height:2.5, fill:color((353.7 - y - 1) / (353.7 - 97.2))});
    
    
  }
  const cbFrame = make(root, "rect", {x:1979, y:top, width:37, height:bottom-top, fill:"none", stroke:"#777", "stroke-width":1.3});
  
  
  backscatterTicks.forEach(function(v){
    const y = cbY(v);
    const t = make(root, "text", {x:2028, y:y+10, "font-size":25, fill:"#333", stroke:"#333", "stroke-width":.3}, String(v));
    
    
    const k = make(root, "line", {x1:2011, x2:2016, y1:y, y2:y, stroke:"#555", "stroke-width":1});
    
    
  });
})();

/* ---------- Panel (b) ---------- */
(function(){
  const root = document.getElementById("panelB");
  const bX = v => 136.7 + 2087 * v;
  const bY = a => 708 - (a - 20) * 29.93;
  const left = 136.7, right = 600, top = 510, bottom = 889;
  extinctionTicks.slice(1).forEach(function(v){
    const g = make(root, "line", {x1:bX(v), x2:bX(v), y1:top, y2:bottom, stroke:"#ececec", "stroke-width":1.5});
    
    
  });
  extinctionAltTicks.forEach(function(a){
    const g = make(root, "line", {x1:left, x2:right, y1:bY(a), y2:bY(a), stroke:"#ececec", "stroke-width":1.5});
    
    
  });
  const frame = make(root, "rect", {x:left, y:top, width:right-left, height:bottom-top, fill:"none", stroke:"#8c8c8c", "stroke-width":1.6});
  
  
  for (let i = 0; i <= 11; i++){
    const x = bX(i * 0.02);
    const major = i % 5 === 0;
    const a = make(root, "line", {x1:x, x2:x, y1:top-(major?3:2), y2:top+1, stroke:"#8c8c8c", "stroke-width":1.3});
    
    
    const b = make(root, "line", {x1:x, x2:x, y1:bottom-1, y2:bottom+(major?5:3), stroke:"#8c8c8c", "stroke-width":1.3});
    
    
  }
  for (let a = 14; a <= 26; a++){
    const major = a % 5 === 0;
    const l = make(root, "line", {x1:left-(major?5:3), x2:left, y1:bY(a), y2:bY(a), stroke:"#8c8c8c", "stroke-width":1.3});
    
    
    const r = make(root, "line", {x1:right, x2:right+(major?4:2), y1:bY(a), y2:bY(a), stroke:"#8c8c8c", "stroke-width":1.3});
    
    
  }
  extinctionAltTicks.forEach(function(a){
    const t = make(root, "text", {x:72, y:bY(a)+12, "font-size":34, "font-weight":"bold", fill:"#444", textLength:43, lengthAdjust:"spacingAndGlyphs"}, String(a));
    
    
  });
  extinctionTicks.forEach(function(v){
    const t = make(root, "text", {x:bX(v)-(v===0?3:0), y:946, "font-size":33, "font-weight":"bold", fill:"#444", "text-anchor":"middle"}, String(v));
    
    
  });
  const line = (xs, ys) => xs.map((v, i) => bX(v).toFixed(1) + "," + bY(ys[i]).toFixed(1)).join(" ");
  const m = make(root, "polyline", {points:line(magentaExtinction, magentaAltitude), fill:"none", stroke:"#ff00ff", "stroke-width":4.4, "stroke-linejoin":"round"});
  
  
  const g = make(root, "polyline", {points:line(greenExtinction, greenAltitude), fill:"none", stroke:"#00ff00", "stroke-width":4.4, "stroke-linejoin":"round"});
  
  
})();

/* ---------- Panels (c), (d) ---------- */
function mapPanel(cfg){
  const root = document.getElementById(cfg.id);
  const left = cfg.left, right = cfg.left + 550.4, top = 526, bottom = 936.7;
  const rows = cfg.bins.length, cols = 60;
  const cw = (right - left) / cols, ch = (bottom - top) / rows;
  const lonX = lon => cfg.x120 + (lon + 120) * 9.2;
  const latY = lat => 594.3 + (-lat - 35) * 13.72;
  const cells = make(root, "g", {"shape-rendering":"crispEdges"});
  
  
  cfg.bins.forEach(function(row, r){
    for (let c = 0; c < cols; c++){
      const b = row[Math.min(c, row.length - 1)];
      const cell = make(cells, "rect", {x:left + c*cw, y:top + r*ch, width:cw+.4, height:ch+.4, fill:levelColors[b]});
      
      
    }
  });
  gridLatitudes.forEach(function(lat){
    const y = latY(lat);
    const g = make(root, "line", {x1:left, x2:right, y1:y, y2:y, stroke:"#8c8c8c", "stroke-opacity":.85, "stroke-width":1.6, "stroke-dasharray":"7 4"});
    
    
    const t = make(root, "text", {x:left-2, y:y+7, "font-size":18, fill:"#111", "text-anchor":"end"}, Math.abs(lat) + "\u00B0S");
    
    
    squeeze(t, .88);
  });
  gridLongitudes.forEach(function(lon){
    const x = lonX(lon);
    const g = make(root, "line", {x1:x, x2:x, y1:top, y2:bottom, stroke:"#8c8c8c", "stroke-opacity":.85, "stroke-width":1.6, "stroke-dasharray":"7 4"});
    
    
    const t = make(root, "text", {x:x, y:955, "font-size":18, fill:"#111", "text-anchor":"middle"}, Math.abs(lon) + "\u00B0W");
    
    
    squeeze(t, .88);
  });
  const pts = trackLongitudes.map((lon, i) => lonX(lon).toFixed(1) + "," + latY(trackLatitudes[i]).toFixed(1)).join(" ");
  const track = make(root, "polyline", {points:pts, fill:"none", stroke:cfg.track, "stroke-width":2.2});
  
  
  const frame = make(root, "rect", {x:left, y:top, width:right-left, height:bottom-top, fill:"none", stroke:"#333", "stroke-width":1.3});
  
  
  /* colour bar */
  const bh = (bottom - top) / levelColors.length;
  const bar = make(root, "g", {"shape-rendering":"crispEdges"});
  
  
  levelColors.forEach(function(col, i){
    const seg = make(bar, "rect", {x:cfg.cbLeft, y:bottom - (i+1)*bh, width:35, height:bh+.4, fill:col});
    
    
  });
  const cbF = make(root, "rect", {x:cfg.cbLeft, y:top, width:35, height:bottom-top, fill:"none", stroke:"#444", "stroke-width":1});
  
  
  cfg.ticks.forEach(function(v){
    const y = cfg.scale(v);
    const k = make(root, "line", {x1:cfg.cbLeft+35, x2:cfg.cbLeft+39, y1:y, y2:y, stroke:"#333", "stroke-width":1});
    
    
    const t = make(root, "text", {x:cfg.cbLeft+42, y:y+7, "font-size":18, fill:"#111"}, cfg.fmt(v));
    
    
    squeeze(t, .88);
  });
}
mapPanel({id:"panelC", name:"pv-map", bins:pvBins, left:711.7, x120:894, cbLeft:1269, track:"#800080", ticks:pvTicks,
  scale:v => 603.3 + (-5 - v) * 18.22, fmt:v => minus(v)});
mapPanel({id:"panelD", name:"ozone-map", bins:ozoneBins, left:1434.6, x120:1618, cbLeft:1992, track:"#6f0d9a", ticks:ozoneTicks,
  scale:v => 565.7 + (2.4 - v) * 296.7, fmt:v => v.toFixed(1)});
</script>
</body>
</html>
